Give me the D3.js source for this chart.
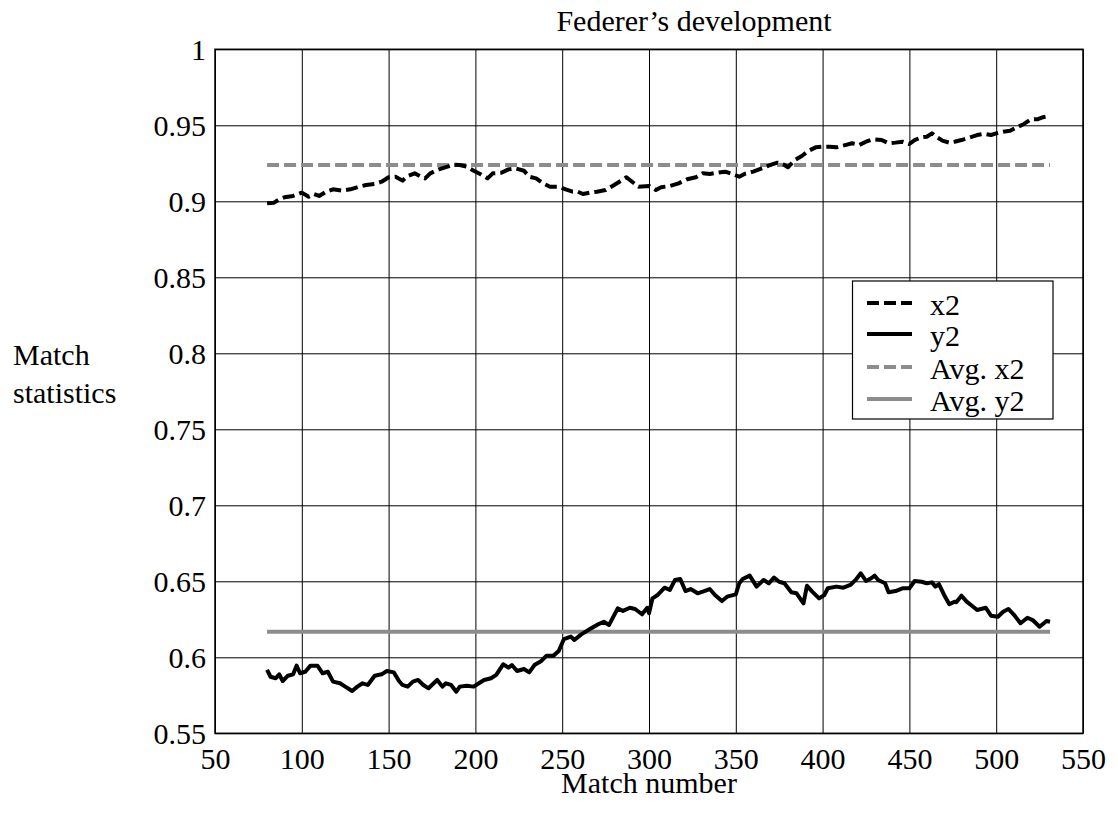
<!DOCTYPE html>
<html>
<head>
<meta charset="utf-8">
<script src="https://cdn.jsdelivr.net/npm/d3@7"></script>
<style>
  html, body { margin: 0; padding: 0; background: #fff; }
  svg { display: block; }
  text { font-family: "Liberation Serif", "Times New Roman", serif; fill: #000; }
</style>
</head>
<body>
<svg id="chart" width="1118" height="814"></svg>
<script>
// Rolling match statistics, one reading per match number
const x2Matches = [80,84,87,90,95,100,104,107,110,114,118,123,128,133,137,142,146,150,154,158,161,165,168,171,174,179,184,187,191,195,199,203,207,210,215,219,223,228,231,235,239,243,248,252,256,259,262,266,270,275,279,282,287,291,294,300,304,307,312,317,322,327,331,335,339,344,348,352,355,360,365,370,374,378,380,384,388,392,396,400,404,408,413,417,421,425,429,434,438,442,446,450,453,457,460,463,466,469,473,476,480,485,489,493,497,500,504,508,512,516,520,524,527,531];
const x2Values = [0.8987,0.8991,0.9013,0.9026,0.9035,0.9057,0.9030,0.9048,0.9035,0.9063,0.9079,0.9070,0.9079,0.9096,0.9107,0.9114,0.9129,0.9158,0.9162,0.9136,0.9166,0.9184,0.9166,0.9151,0.9184,0.9210,0.9228,0.9241,0.9239,0.9228,0.9201,0.9178,0.9151,0.9184,0.9188,0.9210,0.9217,0.9201,0.9162,0.9151,0.9118,0.9096,0.9096,0.9079,0.9063,0.9063,0.9048,0.9057,0.9063,0.9074,0.9101,0.9122,0.9158,0.9122,0.9096,0.9101,0.9074,0.9092,0.9101,0.9118,0.9145,0.9158,0.9184,0.9180,0.9188,0.9195,0.9180,0.9162,0.9180,0.9195,0.9217,0.9239,0.9254,0.9239,0.9224,0.9272,0.9298,0.9333,0.9355,0.9359,0.9359,0.9355,0.9370,0.9382,0.9370,0.9392,0.9408,0.9403,0.9382,0.9386,0.9392,0.9377,0.9403,0.9421,0.9425,0.9447,0.9421,0.9399,0.9386,0.9392,0.9403,0.9421,0.9436,0.9443,0.9436,0.9447,0.9458,0.9464,0.9487,0.9509,0.9540,0.9540,0.9553,0.9561];

const y2Matches = [80,82,85,87,89,92,95,97,99,102,105,109,112,115,118,122,125,129,132,135,138,142,146,149,153,156,158,161,164,167,170,173,176,178,181,183,186,189,191,195,199,202,205,209,212,216,219,221,224,228,231,234,238,241,245,248,251,255,257,261,266,270,274,277,282,285,289,292,296,299,300,302,305,309,312,315,318,321,324,328,331,335,338,342,345,350,352,354,358,362,366,369,372,375,378,382,385,389,391,394,398,401,403,408,412,416,419,422,425,428,430,432,436,438,442,446,450,453,457,460,463,465,467,470,473,476,477,480,483,486,489,494,497,501,504,507,510,514,518,521,525,529,531];
const y2Values = [0.5917,0.5872,0.5862,0.5888,0.5844,0.5879,0.5888,0.5945,0.5895,0.5905,0.5945,0.5945,0.5895,0.5905,0.5840,0.5829,0.5807,0.5778,0.5807,0.5829,0.5818,0.5879,0.5888,0.5910,0.5901,0.5844,0.5818,0.5807,0.5840,0.5851,0.5818,0.5796,0.5829,0.5851,0.5807,0.5829,0.5818,0.5774,0.5807,0.5813,0.5807,0.5829,0.5851,0.5862,0.5884,0.5954,0.5932,0.5949,0.5910,0.5923,0.5901,0.5949,0.5976,0.6011,0.6011,0.6041,0.6120,0.6136,0.6114,0.6151,0.6186,0.6213,0.6234,0.6213,0.6322,0.6305,0.6326,0.6318,0.6283,0.6326,0.6290,0.6388,0.6410,0.6458,0.6443,0.6509,0.6515,0.6436,0.6449,0.6421,0.6432,0.6449,0.6410,0.6370,0.6399,0.6414,0.6487,0.6515,0.6537,0.6465,0.6509,0.6487,0.6524,0.6497,0.6487,0.6428,0.6421,0.6355,0.6471,0.6432,0.6388,0.6410,0.6454,0.6465,0.6458,0.6476,0.6509,0.6553,0.6502,0.6520,0.6537,0.6509,0.6487,0.6428,0.6436,0.6454,0.6454,0.6502,0.6497,0.6487,0.6493,0.6465,0.6481,0.6410,0.6349,0.6366,0.6362,0.6405,0.6366,0.6339,0.6311,0.6326,0.6274,0.6267,0.6300,0.6318,0.6283,0.6224,0.6260,0.6245,0.6201,0.6239,0.6234];

// Averages over the whole span
const avgX2 = 0.9239;
const avgY2 = 0.6168;
const avgSpan = [80, 531];

const xTicks = [50,100,150,200,250,300,350,400,450,500,550];
const yTicks = [0.55,0.6,0.65,0.7,0.75,0.8,0.85,0.9,0.95,1];

const legendItems = [
  { label: "x2",      color: "#000",    dash: "12,5" },
  { label: "y2",      color: "#000",    dash: null },
  { label: "Avg. x2", color: "#8c8c8c", dash: "12,5" },
  { label: "Avg. y2", color: "#8c8c8c", dash: null }
];

const svg = d3.select("#chart");
const plotL = 215, plotR = 1083, plotT = 49.3, plotB = 733.3;
const FS = 30;

const x = d3.scaleLinear().domain([50, 550]).range([plotL, plotR]);
const y = d3.scaleLinear().domain([0.55, 1]).range([plotB, plotT]);

const fmt = v => String(+v.toFixed(2));

// Grid + tick labels via axes
const xAxis = svg.append("g")
  .attr("transform", `translate(0,${plotB})`)
  .call(d3.axisBottom(x).tickValues(xTicks).tickSize(-(plotB - plotT)).tickPadding(0).tickFormat(d3.format("d")));
xAxis.select(".domain").remove();
xAxis.selectAll(".tick line").attr("stroke", "#000").attr("stroke-width", 1);
xAxis.selectAll(".tick text")
  .attr("font-size", FS).attr("y", 36).attr("dy", null);

const yAxis = svg.append("g")
  .attr("transform", `translate(${plotL},0)`)
  .call(d3.axisLeft(y).tickValues(yTicks).tickSize(-(plotR - plotL)).tickPadding(9).tickFormat(fmt));
yAxis.select(".domain").remove();
yAxis.selectAll(".tick line").attr("stroke", "#000").attr("stroke-width", 1);
yAxis.selectAll(".tick text")
  .attr("font-size", FS).attr("dy", "0.33em");

svg.selectAll(".tick text").attr("font-family", "Liberation Serif, Times New Roman, serif").attr("fill", "#000");

// Average reference lines
svg.append("line")
  .attr("x1", x(avgSpan[0])).attr("x2", x(avgSpan[1]))
  .attr("y1", y(avgX2)).attr("y2", y(avgX2))
  .attr("stroke", "#8c8c8c").attr("stroke-width", 4).attr("stroke-dasharray", "12,5");
svg.append("line")
  .attr("x1", x(avgSpan[0])).attr("x2", x(avgSpan[1]))
  .attr("y1", y(avgY2)).attr("y2", y(avgY2))
  .attr("stroke", "#8c8c8c").attr("stroke-width", 4);

// Series lines
const line = d3.line().x(d => x(d[0])).y(d => y(d[1]));
svg.append("path")
  .datum(d3.zip(x2Matches, x2Values))
  .attr("d", line).attr("fill", "none")
  .attr("stroke", "#000").attr("stroke-width", 4)
  .attr("stroke-linejoin", "round").attr("stroke-dasharray", "12,5");
svg.append("path")
  .datum(d3.zip(y2Matches, y2Values))
  .attr("d", line).attr("fill", "none")
  .attr("stroke", "#000").attr("stroke-width", 4)
  .attr("stroke-linejoin", "round");

// Plot frame
svg.append("rect")
  .attr("x", plotL).attr("y", plotT)
  .attr("width", plotR - plotL).attr("height", plotB - plotT)
  .attr("fill", "none").attr("stroke", "#000").attr("stroke-width", 1.5);

// Legend
const lg = svg.append("g");
lg.append("rect")
  .attr("x", 852.5).attr("y", 281).attr("width", 200.5).attr("height", 138)
  .attr("fill", "#fff").attr("stroke", "#000").attr("stroke-width", 1.2);
const baselines = [315, 346, 379, 411];
legendItems.forEach((d, i) => {
  lg.append("line")
    .attr("x1", 867).attr("x2", 912)
    .attr("y1", baselines[i] - 12).attr("y2", baselines[i] - 12)
    .attr("stroke", d.color).attr("stroke-width", 4)
    .attr("stroke-dasharray", d.dash);
  lg.append("text")
    .attr("x", 930).attr("y", baselines[i])
    .attr("font-size", FS).text(d.label);
});

// Titles
svg.append("text")
  .attr("x", 694).attr("y", 31).attr("text-anchor", "middle")
  .attr("font-size", FS).text("Federer’s development");
svg.append("text")
  .attr("x", (plotL + plotR) / 2).attr("y", 793).attr("text-anchor", "middle")
  .attr("font-size", FS).text("Match number");
svg.append("text")
  .attr("x", 13).attr("y", 365).attr("font-size", FS).text("Match");
svg.append("text")
  .attr("x", 13).attr("y", 403).attr("font-size", FS).text("statistics");
</script>
</body>
</html>
